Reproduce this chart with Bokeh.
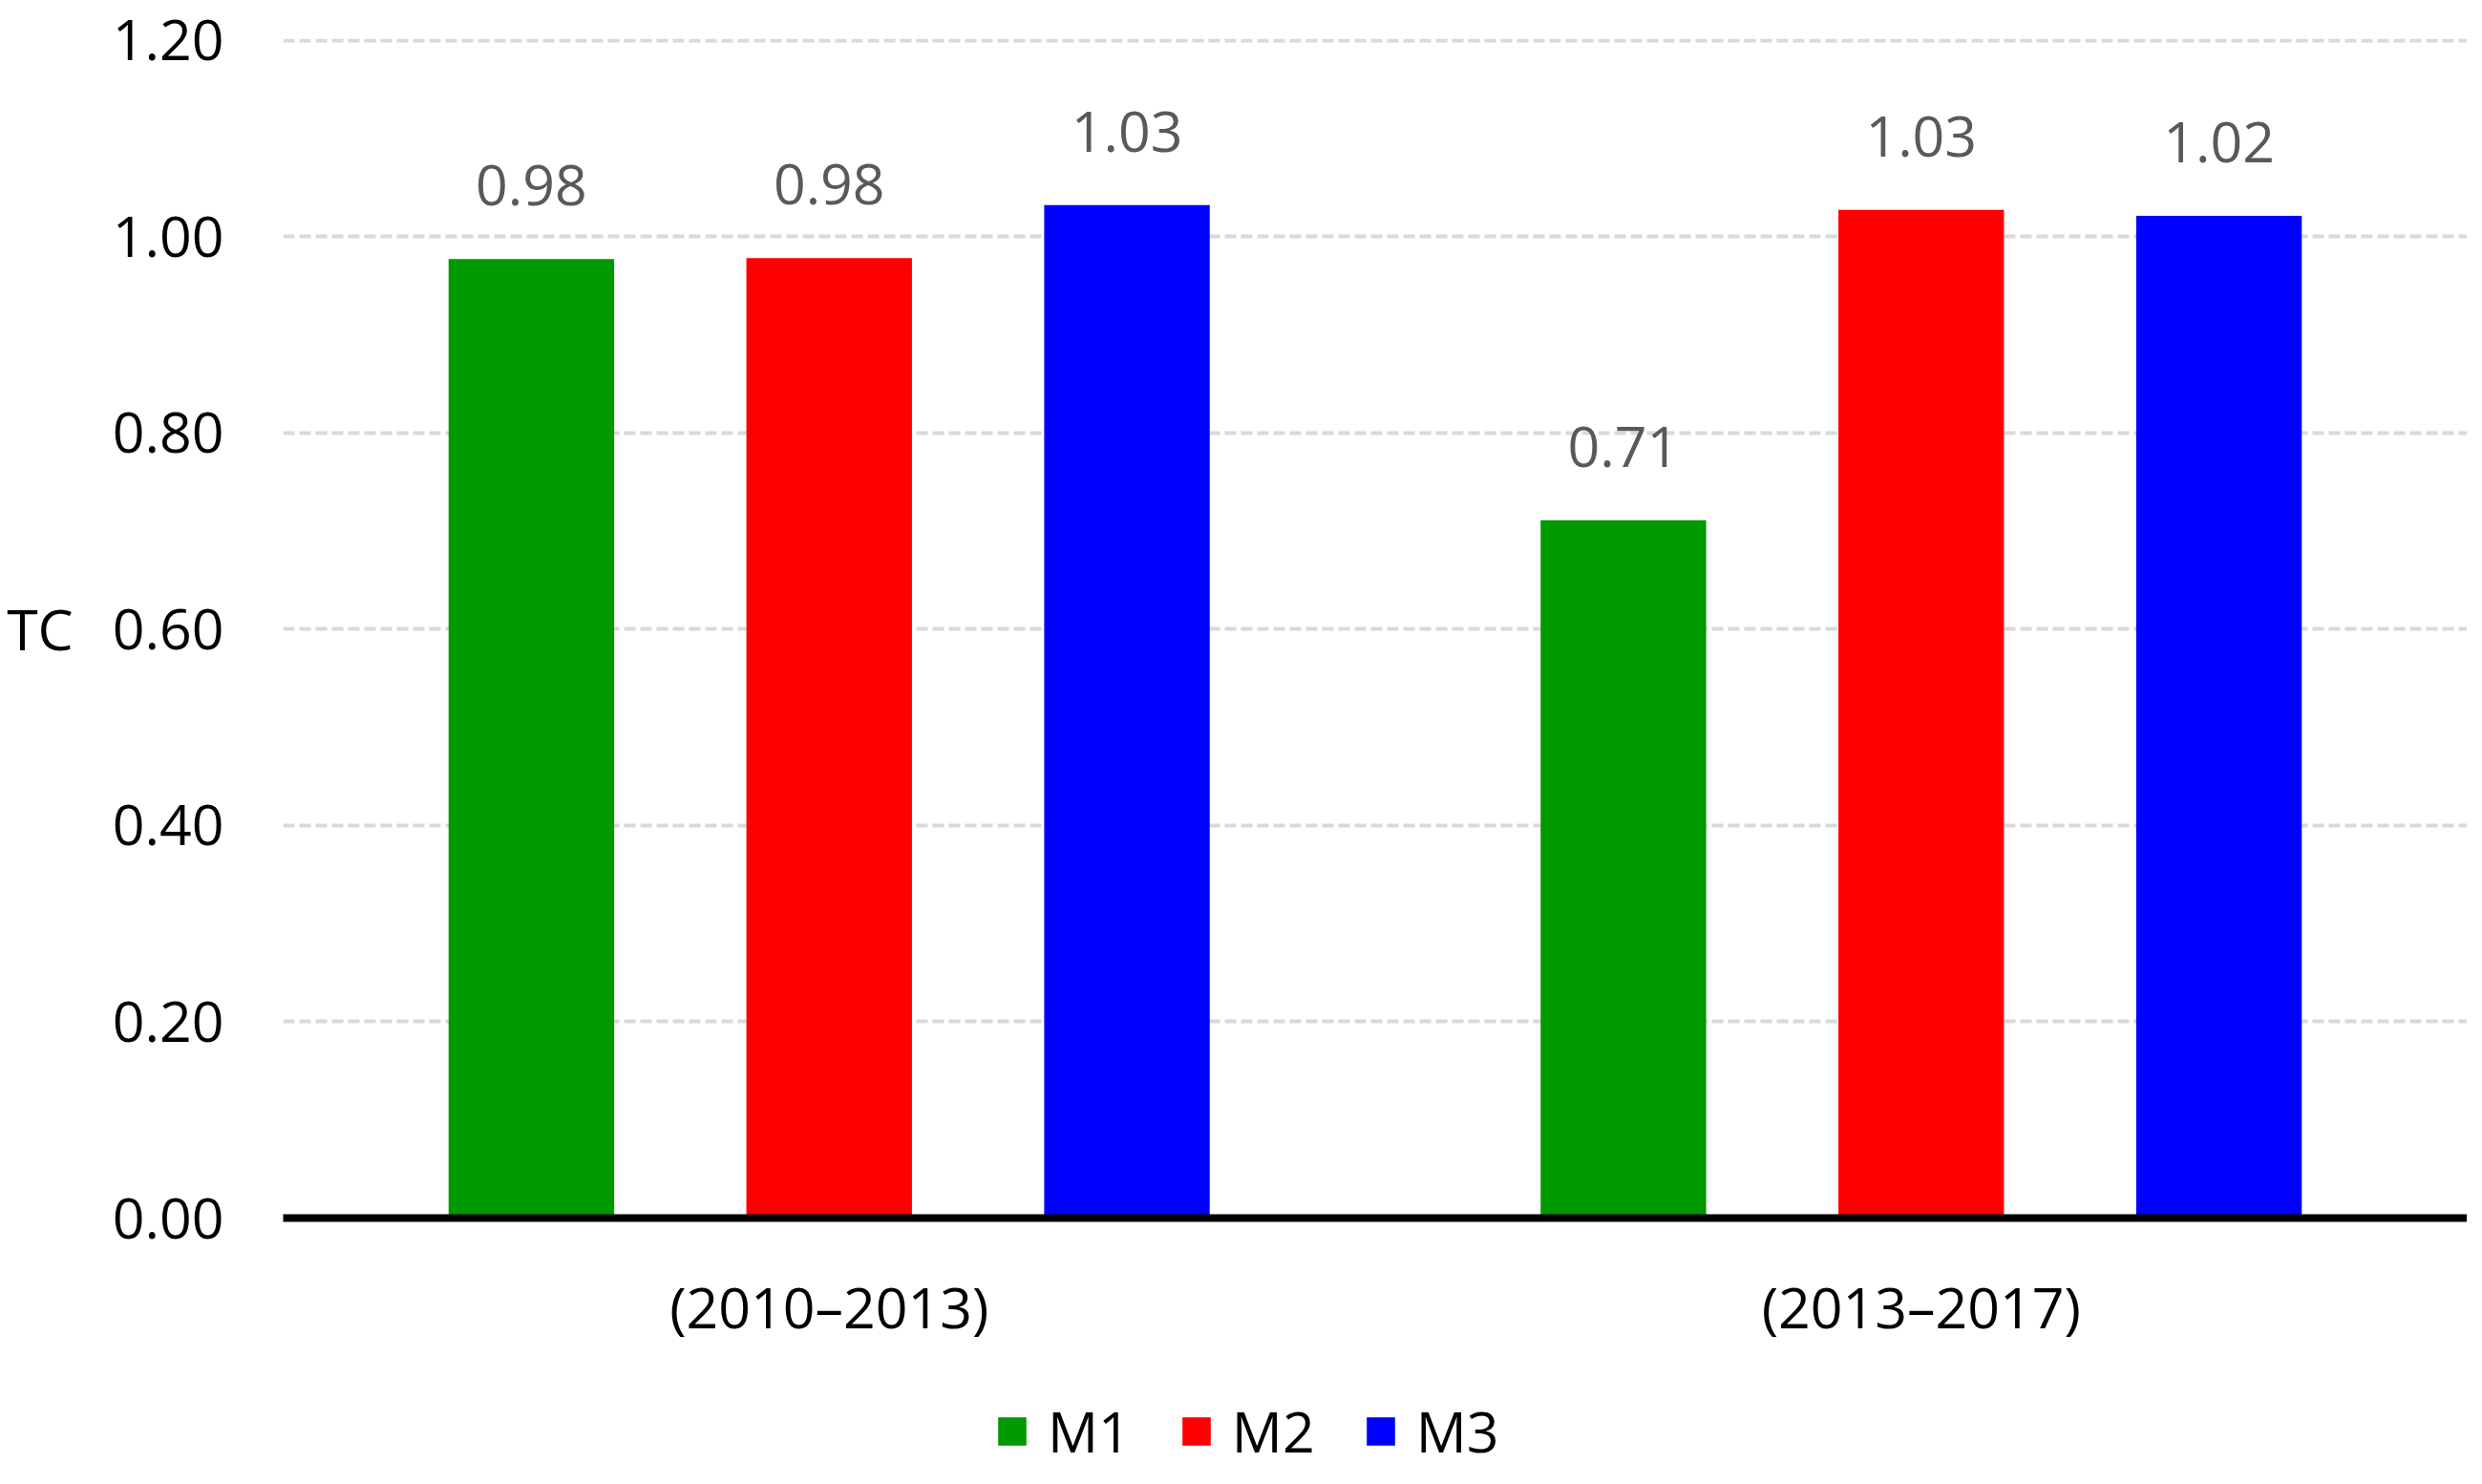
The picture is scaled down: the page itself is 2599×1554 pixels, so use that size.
from bokeh.plotting import figure
from bokeh.layouts import column
from bokeh.models import (ColumnDataSource, FactorRange, Range1d, FixedTicker,
                          NumeralTickFormatter, LabelSet, Legend, LegendItem)
from bokeh.transform import dodge
from bokeh.core.properties import value
from bokeh.embed import file_html
from bokeh.resources import INLINE

# ---- data ----
categories = ["(2010\u20132013)", "(2013\u20132017)"]
series_names = ["M1", "M2", "M3"]
m1_values = [0.977, 0.711]
m2_values = [0.978, 1.027]
m3_values = [1.032, 1.021]
y_ticks = [0.0, 0.2, 0.4, 0.6, 0.8, 1.0, 1.2]

colors = ["#009900", "#FF0000", "#0000FF"]
offsets = [-0.2727, 0.0, 0.2727]
FONT = "Open Sans"
FS = "59px"
W = 2583

p = figure(x_range=FactorRange(*categories, range_padding=0),
           y_range=Range1d(0, 1.2015),
           width=W, height=1410,
           output_backend="svg", toolbar_location=None,
           min_border_left=296, min_border_right=0,
           min_border_top=40, min_border_bottom=134)
p.outline_line_color = None
p.background_fill_color = "white"
p.border_fill_color = "white"

for name, vals, col, off in zip(series_names, [m1_values, m2_values, m3_values], colors, offsets):
    src = ColumnDataSource(dict(cat=categories, val=vals,
                                lab=[f"{v:.2f}" for v in vals]))
    p.vbar(x=dodge("cat", off, range=p.x_range), top="val", width=0.1516,
           source=src, fill_color=col, line_color=None)
    labels = LabelSet(x=dodge("cat", off, range=p.x_range), y="val", text="lab",
                      source=src, text_align="center", text_baseline="alphabetic",
                      y_offset=56, text_font=value(FONT), text_font_size=FS,
                      text_color="#595959")
    p.add_layout(labels)

# grid
p.xgrid.grid_line_color = None
p.ygrid.ticker = FixedTicker(ticks=y_ticks)
p.ygrid.grid_line_color = "#d9d9d9"
p.ygrid.grid_line_width = 4
p.ygrid.grid_line_dash = "12 5"

# y axis
p.yaxis.ticker = FixedTicker(ticks=y_ticks)
p.yaxis.formatter = NumeralTickFormatter(format="0.00")
p.yaxis.axis_line_color = None
p.yaxis.major_tick_line_color = None
p.yaxis.minor_tick_line_color = None
p.yaxis.major_tick_out = 0
p.yaxis.major_tick_in = 0
p.yaxis.minor_tick_out = 0
p.yaxis.minor_tick_in = 0
p.yaxis.major_label_text_font = FONT
p.yaxis.major_label_text_font_size = FS
p.yaxis.major_label_text_color = "black"
p.yaxis.major_label_standoff = 62
p.yaxis.axis_label = "TC"
p.yaxis.axis_label_orientation = "horizontal"
p.yaxis.axis_label_text_font = FONT
p.yaxis.axis_label_text_font_size = FS
p.yaxis.axis_label_text_font_style = "normal"
p.yaxis.axis_label_text_color = "black"
p.yaxis.axis_label_standoff = 38

# x axis
p.xaxis.axis_line_color = "black"
p.xaxis.axis_line_width = 8
p.xaxis.major_tick_line_color = None
p.xaxis.minor_tick_line_color = None
p.xaxis.major_tick_out = 0
p.xaxis.major_tick_in = 0
p.xaxis.minor_tick_out = 0
p.xaxis.minor_tick_in = 0
p.xaxis.major_label_text_font = FONT
p.xaxis.major_label_text_font_size = FS
p.xaxis.major_label_text_color = "black"
p.xaxis.major_label_standoff = 52

# ---- legend strip below the chart ----
p2 = figure(width=W, height=128, x_range=Range1d(0, 1), y_range=Range1d(0, 1),
            output_backend="svg", toolbar_location=None,
            x_axis_location=None, y_axis_location=None,
            min_border_left=0, min_border_right=0, min_border_top=0, min_border_bottom=0)
p2.outline_line_color = None
p2.xgrid.grid_line_color = None
p2.ygrid.grid_line_color = None
items = []
for name, col in zip(series_names, colors):
    # swatch-only renderer placed outside the visible range (legend key only)
    r = p2.vbar(x=[5.0], top=[0.0], width=0.1, fill_color=col, line_color=None)
    items.append(LegendItem(label=name, renderers=[r]))

legend = Legend(items=items, orientation="horizontal", location=(745, 0),
                glyph_width=37, glyph_height=37, label_standoff=19, spacing=50,
                padding=0, margin=0, border_line_color=None,
                background_fill_alpha=0, label_text_font=FONT,
                label_text_font_size=FS, label_text_color="black")
p2.add_layout(legend, "center")

layout = column(p, p2, spacing=0)
open("out.html", "w").write(file_html(layout, INLINE))
